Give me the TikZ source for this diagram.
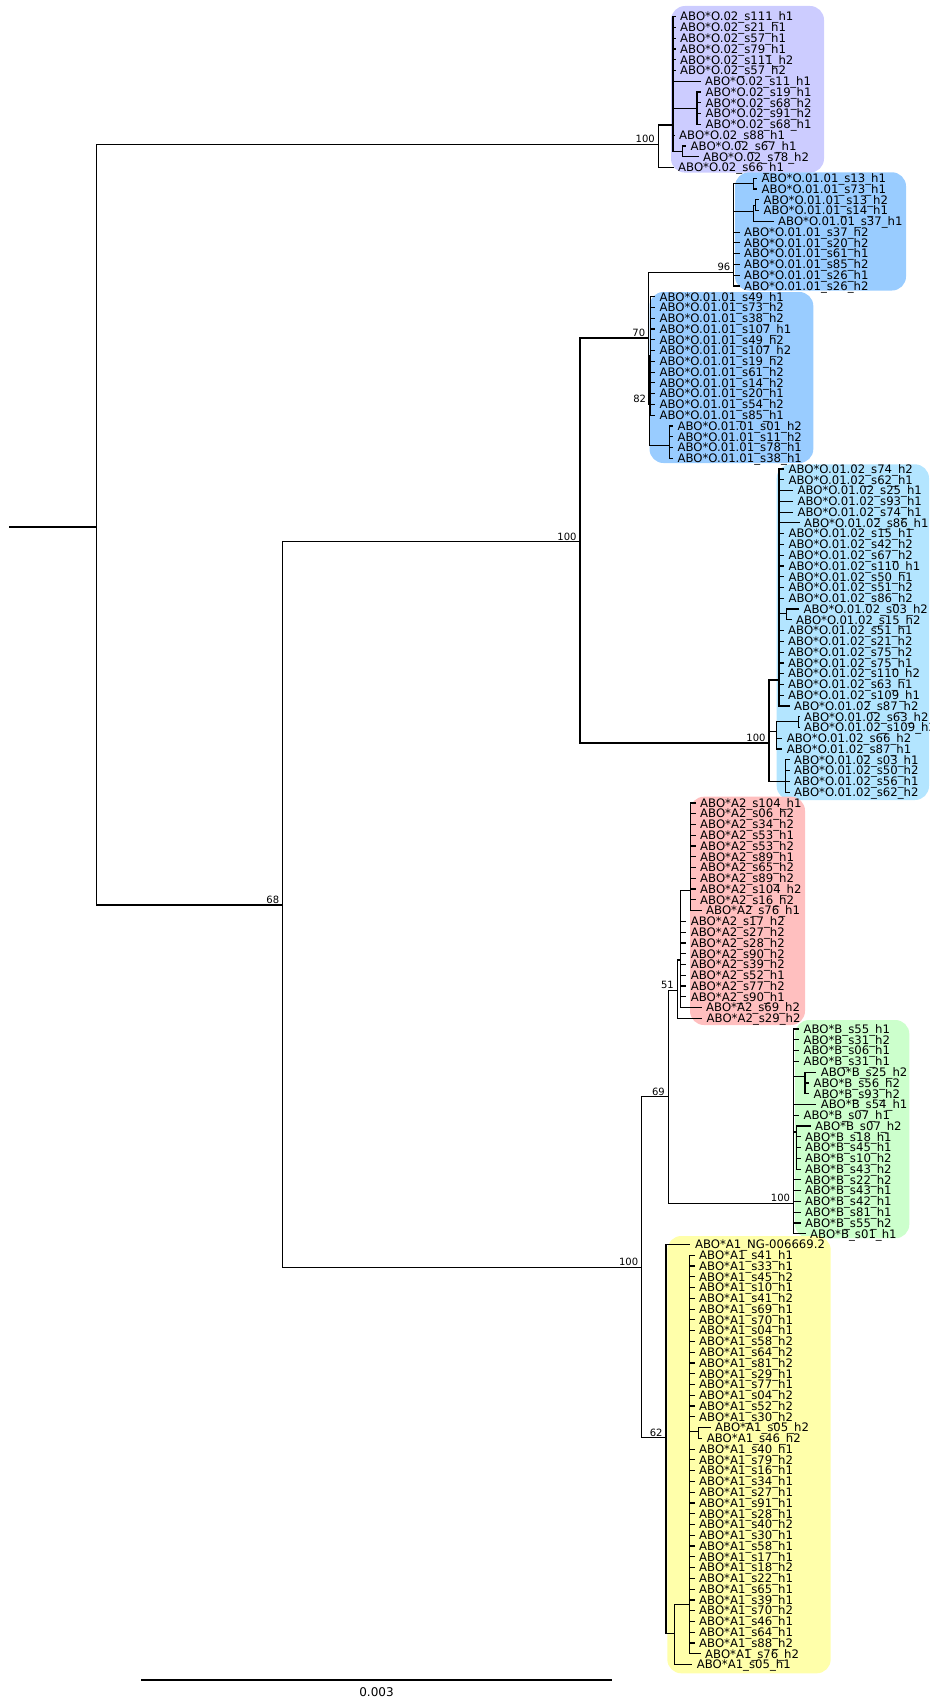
\documentclass[tikz,border=0pt]{standalone}
\usepackage{fontspec}
\setmainfont{DejaVu Sans}
\definecolor{cpur}{RGB}{204,204,255}
\definecolor{cblu}{RGB}{153,204,255}
\definecolor{clbl}{RGB}{179,229,255}
\definecolor{cred}{RGB}{255,191,191}
\definecolor{cgrn}{RGB}{204,255,204}
\definecolor{cyel}{RGB}{255,255,170}
\tikzset{
 br/.style={line width=1.2pt, black},
 lab/.style={anchor=base west, inner sep=0pt, font=\fontsize{11.7}{12}\selectfont},
 bsup/.style={anchor=base east, inner sep=0pt, font=\fontsize{10}{12}\selectfont},
 cladebox/.style={rounded corners=14pt}
}
\newcommand\leafnode[4]{%
  \coordinate (L#3) at (#2,{16.7+10.77*#3});
  \draw[br] (#1) |- (L#3);
  \node[lab] (T#3) at ([xshift=4.5pt,yshift=-4.3pt]L#3) {#4};}
\newcommand\inode[4]{%
  \coordinate (#2) at (#3,#4);
  \draw[br] (#1) |- (#2);}
\newcommand\bslab[2]{\node[bsup] (S#1) at ([xshift=-3.3pt,yshift=1.6pt]#1) {#2};}
\newcommand\tOii{ABO*O.02\_}
\newcommand\tOa{ABO*O.01.01\_}
\newcommand\tOb{ABO*O.01.02\_}
\newcommand\tAii{ABO*A2\_}
\newcommand\tBB{ABO*B\_}
\newcommand\tAi{ABO*A1\_}
\begin{document}
\begin{tikzpicture}[x=1pt,y=-1pt]
\useasboundingbox (0,0) rectangle (929,1699);
% clade boxes
\fill[cpur,cladebox] (671,6) rectangle (824,172.6);
\fill[cblu,cladebox] (735,172.3) rectangle (906,290.5);
\fill[cblu,cladebox] (649.5,292) rectangle (813.3,463);
\fill[clbl,cladebox] (776.7,464.3) rectangle (929,800);
\fill[cred,cladebox] (690,796.7) rectangle (805,1025);
\fill[cgrn,cladebox] (795,1020) rectangle (909.3,1238.3);
\fill[cyel,cladebox] (667.3,1236) rectangle (830.7,1673.3);
% backbone
\coordinate (root) at (9.3,527);
\coordinate (n0) at (96.7,527);
\draw[br] (root) -- (n0);
\inode{n0}{nP}{658.3}{144.4}
\inode{n0}{n68}{282.7}{905}
\inode{n68}{n100a}{580}{541.7}
\inode{n68}{n100b}{641.7}{1267.2}
\inode{n100a}{n70}{648.7}{338}
\inode{n100a}{nLB}{769}{743}
\inode{n70}{n96}{733.8}{272.4}
\inode{n70}{n82}{649.5}{404}
\inode{n82}{nBm}{650.5}{356}
\inode{n82}{nBc}{669.8}{445.3}
\inode{n100b}{n69}{668.3}{1096.7}
\inode{n100b}{n62}{666}{1437.6}
\inode{n69}{n51}{677.3}{990.2}
\inode{n69}{nG}{793.5}{1203.3}
\inode{n51}{nRa}{680.5}{960}
\inode{nRa}{nRb}{690.5}{890.5}
\inode{nG}{nGa}{805}{1076.7}
\inode{nG}{nGb}{796.7}{1132}
\inode{n62}{nYa}{674.7}{1633.3}
\inode{nYa}{nYb}{689.3}{1604.3}
\inode{nYb}{nYc}{698.3}{1431.7}
\inode{nP}{nPb}{673}{125}
\inode{nPb}{nPc}{697}{108.2}
\inode{nPb}{nPd}{682.7}{151.3}
\inode{n96}{nBa}{753.3}{183.6}
\inode{n96}{nBb}{753.3}{211.7}
\inode{nBb}{nBd}{755.5}{205.2}
\inode{nLB}{nLa}{779}{680}
\inode{nLB}{nLb}{776.7}{731.7}
\inode{nLB}{nLc}{785.7}{781.7}
\inode{nLa}{nLd}{786.7}{613.3}
\inode{nLb}{nLe}{798.5}{721.5}
% support values
\bslab{nP}{100}
\bslab{n96}{96}
\bslab{n70}{70}
\bslab{n82}{82}
\bslab{n100a}{100}
\bslab{nLB}{100}
\bslab{n68}{68}
\bslab{n51}{51}
\bslab{n69}{69}
\bslab{nG}{100}
\bslab{n100b}{100}
\bslab{n62}{62}
% purple O.02
\leafnode{nPb}{675.5}{0}{\tOii s111\_h1}
\leafnode{nPb}{675.5}{1}{\tOii s21\_h1}
\leafnode{nPb}{675.5}{2}{\tOii s57\_h1}
\leafnode{nPb}{675.5}{3}{\tOii s79\_h1}
\leafnode{nPb}{675.5}{4}{\tOii s111\_h2}
\leafnode{nPb}{675.5}{5}{\tOii s57\_h2}
\leafnode{nPb}{700.5}{6}{\tOii s11\_h1}
\leafnode{nPc}{701}{7}{\tOii s19\_h1}
\leafnode{nPc}{701}{8}{\tOii s68\_h2}
\leafnode{nPc}{701}{9}{\tOii s91\_h2}
\leafnode{nPc}{701}{10}{\tOii s68\_h1}
\leafnode{nPb}{674.5}{11}{\tOii s88\_h1}
\leafnode{nPd}{686}{12}{\tOii s67\_h1}
\leafnode{nPd}{698.5}{13}{\tOii s78\_h2}
\leafnode{nP}{673.5}{14}{\tOii s66\_h1}
% blue O.01.01 (1)
\leafnode{nBa}{757}{15}{\tOa s13\_h1}
\leafnode{nBa}{757}{16}{\tOa s73\_h1}
\leafnode{nBd}{759}{17}{\tOa s13\_h2}
\leafnode{nBd}{759}{18}{\tOa s14\_h1}
\leafnode{nBb}{773.5}{19}{\tOa s37\_h1}
\leafnode{n96}{739.5}{20}{\tOa s37\_h2}
\leafnode{n96}{739.5}{21}{\tOa s20\_h2}
\leafnode{n96}{739.5}{22}{\tOa s61\_h1}
\leafnode{n96}{739.5}{23}{\tOa s85\_h2}
\leafnode{n96}{739.5}{24}{\tOa s26\_h1}
\leafnode{n96}{739.5}{25}{\tOa s26\_h2}
% blue O.01.01 (2)
\leafnode{nBm}{654.8}{26}{\tOa s49\_h1}
\leafnode{nBm}{654.8}{27}{\tOa s73\_h2}
\leafnode{nBm}{654.8}{28}{\tOa s38\_h2}
\leafnode{nBm}{654.8}{29}{\tOa s107\_h1}
\leafnode{nBm}{654.8}{30}{\tOa s49\_h2}
\leafnode{nBm}{654.8}{31}{\tOa s107\_h2}
\leafnode{nBm}{654.8}{32}{\tOa s19\_h2}
\leafnode{nBm}{654.8}{33}{\tOa s61\_h2}
\leafnode{nBm}{654.8}{34}{\tOa s14\_h2}
\leafnode{nBm}{654.8}{35}{\tOa s20\_h1}
\leafnode{nBm}{654.8}{36}{\tOa s54\_h2}
\leafnode{nBm}{654.8}{37}{\tOa s85\_h1}
\leafnode{nBc}{672.8}{38}{\tOa s01\_h2}
\leafnode{nBc}{672.8}{39}{\tOa s11\_h2}
\leafnode{nBc}{672.8}{40}{\tOa s78\_h1}
\leafnode{nBc}{672.8}{41}{\tOa s38\_h1}
% light blue O.01.02
\leafnode{nLa}{783.8}{42}{\tOb s74\_h2}
\leafnode{nLa}{783.8}{43}{\tOb s62\_h1}
\leafnode{nLa}{792.8}{44}{\tOb s25\_h1}
\leafnode{nLa}{792.8}{45}{\tOb s93\_h1}
\leafnode{nLa}{792.8}{46}{\tOb s74\_h1}
\leafnode{nLa}{799.5}{47}{\tOb s86\_h1}
\leafnode{nLa}{783.8}{48}{\tOb s15\_h1}
\leafnode{nLa}{783.8}{49}{\tOb s42\_h2}
\leafnode{nLa}{783.8}{50}{\tOb s67\_h2}
\leafnode{nLa}{783.8}{51}{\tOb s110\_h1}
\leafnode{nLa}{783.8}{52}{\tOb s50\_h1}
\leafnode{nLa}{783.8}{53}{\tOb s51\_h2}
\leafnode{nLa}{783.8}{54}{\tOb s86\_h2}
\leafnode{nLd}{798.8}{55}{\tOb s03\_h2}
\leafnode{nLd}{791.5}{56}{\tOb s15\_h2}
\leafnode{nLa}{783.5}{57}{\tOb s51\_h1}
\leafnode{nLa}{783.5}{58}{\tOb s21\_h2}
\leafnode{nLa}{783.5}{59}{\tOb s75\_h2}
\leafnode{nLa}{783.5}{60}{\tOb s75\_h1}
\leafnode{nLa}{783.5}{61}{\tOb s110\_h2}
\leafnode{nLa}{783.5}{62}{\tOb s63\_h1}
\leafnode{nLa}{783.5}{63}{\tOb s109\_h1}
\leafnode{nLa}{789.5}{64}{\tOb s87\_h2}
\leafnode{nLe}{799.5}{65}{\tOb s63\_h2}
\leafnode{nLe}{799.5}{66}{\tOb s109\_h2}
\leafnode{nLb}{782.2}{67}{\tOb s66\_h2}
\leafnode{nLb}{782.2}{68}{\tOb s87\_h1}
\leafnode{nLc}{789.5}{69}{\tOb s03\_h1}
\leafnode{nLc}{789.5}{70}{\tOb s50\_h2}
\leafnode{nLc}{789.5}{71}{\tOb s56\_h1}
\leafnode{nLc}{789.5}{72}{\tOb s62\_h2}
% red A2
\leafnode{nRb}{695.5}{73}{\tAii s104\_h1}
\leafnode{nRb}{695.5}{74}{\tAii s06\_h2}
\leafnode{nRb}{695.5}{75}{\tAii s34\_h2}
\leafnode{nRb}{695.5}{76}{\tAii s53\_h1}
\leafnode{nRb}{695.5}{77}{\tAii s53\_h2}
\leafnode{nRb}{695.5}{78}{\tAii s89\_h1}
\leafnode{nRb}{695.5}{79}{\tAii s65\_h2}
\leafnode{nRb}{695.5}{80}{\tAii s89\_h2}
\leafnode{nRb}{695.5}{81}{\tAii s104\_h2}
\leafnode{nRb}{695.5}{82}{\tAii s16\_h2}
\leafnode{nRb}{701.5}{83}{\tAii s76\_h1}
\leafnode{nRa}{686.2}{84}{\tAii s17\_h2}
\leafnode{nRa}{686.2}{85}{\tAii s27\_h2}
\leafnode{nRa}{686.2}{86}{\tAii s28\_h2}
\leafnode{nRa}{686.2}{87}{\tAii s90\_h2}
\leafnode{nRa}{686.2}{88}{\tAii s39\_h2}
\leafnode{nRa}{686.2}{89}{\tAii s52\_h1}
\leafnode{nRa}{686.2}{90}{\tAii s77\_h2}
\leafnode{nRa}{686.2}{91}{\tAii s90\_h1}
\leafnode{nRa}{701.5}{92}{\tAii s69\_h2}
\leafnode{n51}{702}{93}{\tAii s29\_h2}
% green B
\leafnode{nG}{798.8}{94}{\tBB s55\_h1}
\leafnode{nG}{798.8}{95}{\tBB s31\_h2}
\leafnode{nG}{798.8}{96}{\tBB s06\_h1}
\leafnode{nG}{798.8}{97}{\tBB s31\_h1}
\leafnode{nGa}{816.2}{98}{\tBB s25\_h2}
\leafnode{nGa}{808.8}{99}{\tBB s56\_h2}
\leafnode{nGa}{808.8}{100}{\tBB s93\_h2}
\leafnode{nG}{816.2}{101}{\tBB s54\_h1}
\leafnode{nG}{798.8}{102}{\tBB s07\_h1}
\leafnode{nGb}{810.5}{103}{\tBB s07\_h2}
\leafnode{nGb}{800.5}{104}{\tBB s18\_h1}
\leafnode{nGb}{800.5}{105}{\tBB s45\_h1}
\leafnode{nGb}{800.5}{106}{\tBB s10\_h2}
\leafnode{nGb}{800.5}{107}{\tBB s43\_h2}
\leafnode{nG}{800.5}{108}{\tBB s22\_h2}
\leafnode{nG}{800.5}{109}{\tBB s43\_h1}
\leafnode{nG}{800.5}{110}{\tBB s42\_h1}
\leafnode{nG}{800.5}{111}{\tBB s81\_h1}
\leafnode{nG}{800.5}{112}{\tBB s55\_h2}
\leafnode{nG}{805.5}{113}{\tBB s01\_h1}
% yellow A1
\leafnode{n62}{690.3}{114}{\tAi NG-006669.2}
\leafnode{nYb}{694.5}{115}{\tAi s41\_h1}
\leafnode{nYb}{694.5}{116}{\tAi s33\_h1}
\leafnode{nYb}{694.5}{117}{\tAi s45\_h2}
\leafnode{nYb}{694.5}{118}{\tAi s10\_h1}
\leafnode{nYb}{694.5}{119}{\tAi s41\_h2}
\leafnode{nYb}{694.5}{120}{\tAi s69\_h1}
\leafnode{nYb}{694.5}{121}{\tAi s70\_h1}
\leafnode{nYb}{694.5}{122}{\tAi s04\_h1}
\leafnode{nYb}{694.5}{123}{\tAi s58\_h2}
\leafnode{nYb}{694.5}{124}{\tAi s64\_h2}
\leafnode{nYb}{694.5}{125}{\tAi s81\_h2}
\leafnode{nYb}{694.5}{126}{\tAi s29\_h1}
\leafnode{nYb}{694.5}{127}{\tAi s77\_h1}
\leafnode{nYb}{694.5}{128}{\tAi s04\_h2}
\leafnode{nYb}{694.5}{129}{\tAi s52\_h2}
\leafnode{nYb}{694.5}{130}{\tAi s30\_h2}
\leafnode{nYc}{710.5}{131}{\tAi s05\_h2}
\leafnode{nYc}{702.2}{132}{\tAi s46\_h2}
\leafnode{nYb}{694.5}{133}{\tAi s40\_h1}
\leafnode{nYb}{694.5}{134}{\tAi s79\_h2}
\leafnode{nYb}{694.5}{135}{\tAi s16\_h1}
\leafnode{nYb}{694.5}{136}{\tAi s34\_h1}
\leafnode{nYb}{694.5}{137}{\tAi s27\_h1}
\leafnode{nYb}{694.5}{138}{\tAi s91\_h1}
\leafnode{nYb}{694.5}{139}{\tAi s28\_h1}
\leafnode{nYb}{694.5}{140}{\tAi s40\_h2}
\leafnode{nYb}{694.5}{141}{\tAi s30\_h1}
\leafnode{nYb}{694.5}{142}{\tAi s58\_h1}
\leafnode{nYb}{694.5}{143}{\tAi s17\_h1}
\leafnode{nYb}{694.5}{144}{\tAi s18\_h2}
\leafnode{nYb}{694.5}{145}{\tAi s22\_h1}
\leafnode{nYb}{694.5}{146}{\tAi s65\_h1}
\leafnode{nYb}{694.5}{147}{\tAi s39\_h1}
\leafnode{nYb}{694.5}{148}{\tAi s70\_h2}
\leafnode{nYb}{694.5}{149}{\tAi s46\_h1}
\leafnode{nYb}{694.5}{150}{\tAi s64\_h1}
\leafnode{nYb}{694.5}{151}{\tAi s88\_h2}
\leafnode{nYb}{700.5}{152}{\tAi s76\_h2}
\leafnode{nYa}{692.2}{153}{\tAi s05\_h1}
% scale bar
\coordinate (sba) at (141,1680);
\coordinate (sbb) at (612,1680);
\draw[br] (sba) -- (sbb);
\node[font=\fontsize{12}{14}\selectfont, inner sep=0pt, anchor=base] (sbl) at (376.5,1696) {0.003};
\end{tikzpicture}
\end{document}
